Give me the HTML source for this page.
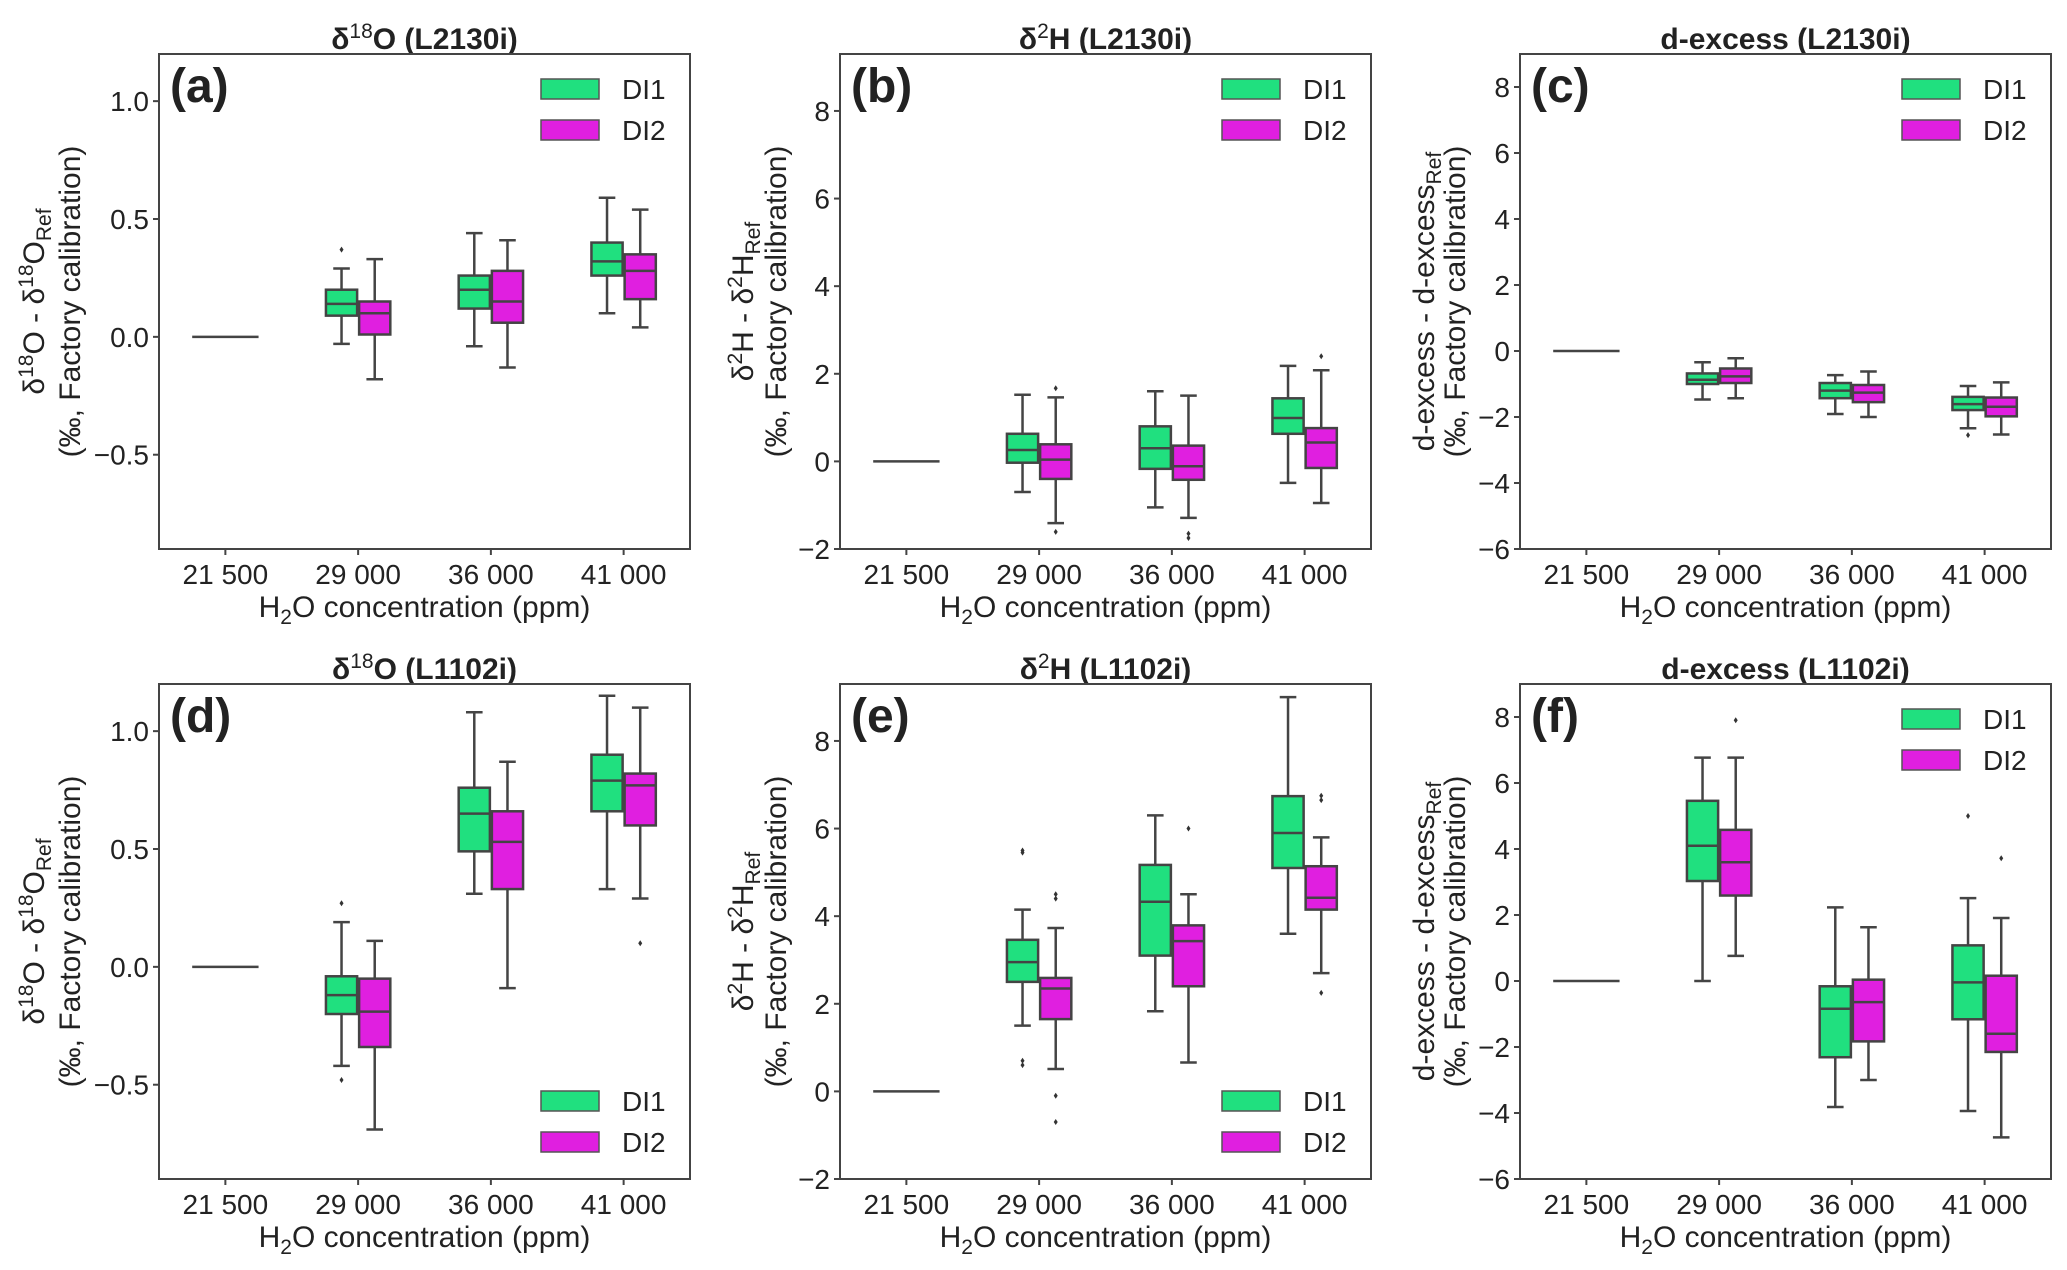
<!DOCTYPE html>
<html><head><meta charset="utf-8"><title>Box plots</title>
<style>
html,body{margin:0;padding:0;background:#fff;}
svg{display:block;font-family:"Liberation Sans",Arial,sans-serif;}
</style></head>
<body>
<svg id="fig" width="2067" height="1270" viewBox="0 0 2067 1270" xmlns="http://www.w3.org/2000/svg"></svg>
<script>
// Categories and tick labels
const categories = ["21 500", "29 000", "36 000", "41 000"];
const seriesNames = ["DI1", "DI2"];
// Box stats per category (29000, 36000, 41000): [whisker-low, q1, median, q3, whisker-high]
const a_DI1 = [[-0.03,0.09,0.14,0.20,0.29],[-0.04,0.12,0.20,0.26,0.44],[0.10,0.26,0.32,0.40,0.59]];
const a_DI2 = [[-0.18,0.01,0.10,0.15,0.33],[-0.13,0.06,0.15,0.28,0.41],[0.04,0.16,0.28,0.35,0.54]];
const a_out1 = [[0.37],[],[]];
const a_out2 = [[],[],[]];
const b_DI1 = [[-0.70,-0.03,0.26,0.63,1.52],[-1.05,-0.17,0.30,0.80,1.60],[-0.49,0.63,0.99,1.44,2.18]];
const b_DI2 = [[-1.41,-0.40,0.04,0.39,1.46],[-1.29,-0.42,-0.11,0.36,1.50],[-0.95,-0.15,0.43,0.76,2.08]];
const b_out1 = [[],[],[]];
const b_out2 = [[1.67,-1.61],[-1.65,-1.75],[2.40]];
const c_DI1 = [[-1.47,-1.00,-0.87,-0.68,-0.34],[-1.91,-1.43,-1.20,-0.97,-0.73],[-2.34,-1.79,-1.61,-1.39,-1.06]];
const c_DI2 = [[-1.43,-0.97,-0.77,-0.53,-0.22],[-2.00,-1.55,-1.26,-1.03,-0.62],[-2.53,-1.98,-1.69,-1.41,-0.95]];
const c_out1 = [[],[],[-2.55]];
const c_out2 = [[],[],[]];
const d_DI1 = [[-0.42,-0.20,-0.12,-0.04,0.19],[0.31,0.49,0.65,0.76,1.08],[0.33,0.66,0.79,0.90,1.15]];
const d_DI2 = [[-0.69,-0.34,-0.19,-0.05,0.11],[-0.09,0.33,0.53,0.66,0.87],[0.29,0.60,0.77,0.82,1.10]];
const d_out1 = [[0.27,-0.48],[],[]];
const d_out2 = [[],[],[0.10]];
const e_DI1 = [[1.50,2.50,2.95,3.46,4.15],[1.83,3.10,4.33,5.17,6.30],[3.60,5.10,5.90,6.74,9.00]];
const e_DI2 = [[0.51,1.65,2.35,2.59,3.73],[0.66,2.40,3.43,3.79,4.50],[2.70,4.15,4.42,5.14,5.80]];
const e_out1 = [[5.50,5.45,0.70,0.60],[],[]];
const e_out2 = [[4.50,4.40,-0.10,-0.70],[6.00],[6.75,6.65,2.25]];
const f_DI1 = [[0.00,3.03,4.10,5.46,6.77],[-3.82,-2.31,-0.84,-0.16,2.23],[-3.94,-1.16,-0.04,1.08,2.51]];
const f_DI2 = [[0.76,2.59,3.60,4.58,6.77],[-3.00,-1.83,-0.64,0.04,1.63],[-4.74,-2.15,-1.60,0.16,1.91]];
const f_out1 = [[],[],[5.00]];
const f_out2 = [[7.90],[],[3.72]];
// Tick values
const ticksO = [-0.5, 0.0, 0.5, 1.0];
const ticksH = [-2, 0, 2, 4, 6, 8];
const ticksD = [-6, -4, -2, 0, 2, 4, 6, 8];

const NS = "http://www.w3.org/2000/svg";
const svg = document.getElementById("fig");
const GREEN = "#20e07f", MAG = "#e01fe0", EDGE = "#444";
function mk(tag, attrs, parent) {
  const e = document.createElementNS(NS, tag);
  for (const k in attrs) e.setAttribute(k, attrs[k]);
  (parent || svg).appendChild(e);
  return e;
}
function fmt(v, dec) { const s = Math.abs(v).toFixed(dec); return (v < 0 ? "\u2212" : "") + s; }

const panels = [
  {id:"a", x0:159, y0:54, title:["δ","18","O (L2130i)"], ylim:[-0.9,1.2], ticks:ticksO, dec:1, d1:a_DI1, d2:a_DI2, o1:a_out1, o2:a_out2, ylab:["δ","18","O - δ","18","O","Ref"], legTop:true, lab1:-125, lab2:-89},
  {id:"b", x0:840, y0:54, title:["δ","2","H (L2130i)"], ylim:[-2,9.3], ticks:ticksH, dec:0, d1:b_DI1, d2:b_DI2, o1:b_out1, o2:b_out2, ylab:["δ","2","H - δ","2","H","Ref"], legTop:true, lab1:-97, lab2:-64},
  {id:"c", x0:1520, y0:54, title:["","","d-excess (L2130i)"], ylim:[-6,9], ticks:ticksD, dec:0, d1:c_DI1, d2:c_DI2, o1:c_out1, o2:c_out2, ylab:["d-excess - d-excess","","","","","Ref"], legTop:true, lab1:-96, lab2:-65},
  {id:"d", x0:159, y0:684, title:["δ","18","O (L1102i)"], ylim:[-0.9,1.2], ticks:ticksO, dec:1, d1:d_DI1, d2:d_DI2, o1:d_out1, o2:d_out2, ylab:["δ","18","O - δ","18","O","Ref"], legTop:false, lab1:-125, lab2:-89},
  {id:"e", x0:840, y0:684, title:["δ","2","H (L1102i)"], ylim:[-2,9.3], ticks:ticksH, dec:0, d1:e_DI1, d2:e_DI2, o1:e_out1, o2:e_out2, ylab:["δ","2","H - δ","2","H","Ref"], legTop:false, lab1:-97, lab2:-64},
  {id:"f", x0:1520, y0:684, title:["","","d-excess (L1102i)"], ylim:[-6,9], ticks:ticksD, dec:0, d1:f_DI1, d2:f_DI2, o1:f_out1, o2:f_out2, ylab:["d-excess - d-excess","","","","","Ref"], legTop:true, lab1:-96, lab2:-65}
];
const W = 531, H = 495;

panels.forEach(p => {
  const g = mk("g", {});
  
  
  const L = p.x0, T = p.y0, R = L + W, B = T + H;
  const y = v => B - (v - p.ylim[0]) / (p.ylim[1] - p.ylim[0]) * H;
  const step = W / 4;
  const x = i => L + step * (i + 0.5);
  const bw = step * 0.25;

  // title
  const tt = mk("text", {x: L + W/2, y: T - 5, "text-anchor":"middle", "font-size":30, "font-weight":"bold", fill:"#222"}, g);
  
  
  if (p.title[0]) {
    tt.appendChild(document.createTextNode(p.title[0]));
    const s = mk("tspan", {dy:-11, "font-size":21, "font-weight":"normal"}, tt); s.textContent = p.title[1];
    const r = mk("tspan", {dy:11}, tt); r.textContent = p.title[2];
  } else tt.textContent = p.title[2];

  // y ticks
  p.ticks.forEach(t => {
    const yy = y(t);
    const tk = mk("line", {x1:L-6, x2:L, y1:yy, y2:yy, stroke:EDGE, "stroke-width":2}, g);
    
    
    const tl = mk("text", {x:L-10, y:yy+10, "text-anchor":"end", "font-size":28, fill:"#222"}, g);
    
    
    tl.textContent = fmt(t, p.dec);
  });
  // x ticks
  categories.forEach((c, i) => {
    const tk = mk("line", {x1:x(i), x2:x(i), y1:B, y2:B+6, stroke:EDGE, "stroke-width":2}, g);
    
    
    const tl = mk("text", {x:x(i), y:B+35, "text-anchor":"middle", "font-size":28, fill:"#222"}, g);
    
    
    tl.textContent = c;
  });
  // x label
  const xl = mk("text", {x:L+W/2, y:B+68, "text-anchor":"middle", "font-size":30, fill:"#222"}, g);
  
  
  xl.appendChild(document.createTextNode("H"));
  const sub = mk("tspan", {dy:7, "font-size":21}, xl); sub.textContent = "2";
  const rest = mk("tspan", {dy:-7}, xl); rest.textContent = "O concentration (ppm)";

  // y label
  const cy = T + H/2;
  const yl = mk("text", {x:0, y:0, transform:`translate(${L+p.lab1+10},${cy}) rotate(-90)`, "text-anchor":"middle", "font-size":30, fill:"#222"}, g);
  
  
  if (p.ylab[1]) {
    yl.appendChild(document.createTextNode(p.ylab[0]));
    let s = mk("tspan", {dy:-11, "font-size":21}, yl); s.textContent = p.ylab[1];
    s = mk("tspan", {dy:11}, yl); s.textContent = p.ylab[2];
    s = mk("tspan", {dy:-11, "font-size":21}, yl); s.textContent = p.ylab[3];
    s = mk("tspan", {dy:11}, yl); s.textContent = p.ylab[4];
  } else yl.appendChild(document.createTextNode(p.ylab[0]));
  let s2 = mk("tspan", {dy:7, "font-size":21}, yl); s2.textContent = p.ylab[5];
  const yl2 = mk("text", {x:0, y:0, transform:`translate(${L+p.lab2+10},${cy}) rotate(-90)`, "text-anchor":"middle", "font-size":30, fill:"#222"}, g);
  
  
  yl2.textContent = "(‰, Factory calibration)";

  // baseline at 21500 (both series at zero)
  const bl = mk("line", {x1:x(0)-bw, x2:x(0)+bw, y1:y(0), y2:y(0), stroke:EDGE, "stroke-width":2.5}, g);
  
  

  // boxes
  [[p.d1, p.o1, GREEN, -1, "di1"], [p.d2, p.o2, MAG, 0, "di2"]].forEach(([data, outs, col, off, nm]) => {
    data.forEach((st, k) => {
      const i = k + 1;
      const left = off < 0 ? x(i) - bw : x(i);
      const cx = left + bw/2;
      const [wl, q1, md, q3, wh] = st;
      const bg = mk("g", {}, g);
      
      
      mk("line", {x1:cx, x2:cx, y1:y(q3), y2:y(wh), stroke:EDGE, "stroke-width":2.5}, bg);
      mk("line", {x1:cx, x2:cx, y1:y(q1), y2:y(wl), stroke:EDGE, "stroke-width":2.5}, bg);
      mk("line", {x1:cx-bw/4, x2:cx+bw/4, y1:y(wh), y2:y(wh), stroke:EDGE, "stroke-width":2.5}, bg);
      mk("line", {x1:cx-bw/4, x2:cx+bw/4, y1:y(wl), y2:y(wl), stroke:EDGE, "stroke-width":2.5}, bg);
      mk("rect", {x:left+1, y:y(q3), width:bw-2, height:Math.max(0.5, y(q1)-y(q3)), fill:col, stroke:EDGE, "stroke-width":2.5}, bg);
      mk("line", {x1:left+1, x2:left+bw-1, y1:y(md), y2:y(md), stroke:EDGE, "stroke-width":2.5}, bg);
      outs[k].forEach(o => {
        const d = mk("path", {d:`M${cx},${y(o)-3} L${cx+2},${y(o)} L${cx},${y(o)+3} L${cx-2},${y(o)} Z`, fill:"#333"}, bg);
        
        
      });
    });
  });

  // frame
  const fr = mk("rect", {x:L, y:T, width:W, height:H, fill:"none", stroke:EDGE, "stroke-width":2}, g);
  
  

  // panel letter
  const pl = mk("text", {x:L+11, y:T+48, "font-size":48, "font-weight":"bold", fill:"#222"}, g);
  
  
  pl.textContent = "(" + p.id + ")";

  // legend
  const ly = p.legTop ? T + 25 : B - 88;
  seriesNames.forEach((n, j) => {
    const lg = mk("g", {}, g);
    
    
    mk("rect", {x:R-149, y:ly + j*41, width:58, height:20, fill: j ? MAG : GREEN, stroke:"#555", "stroke-width":1.5}, lg);
    const t = mk("text", {x:R-68, y:ly + j*41 + 20, "font-size":28, fill:"#222"}, lg);
    t.textContent = n;
  });
});
</script>
</body></html>
